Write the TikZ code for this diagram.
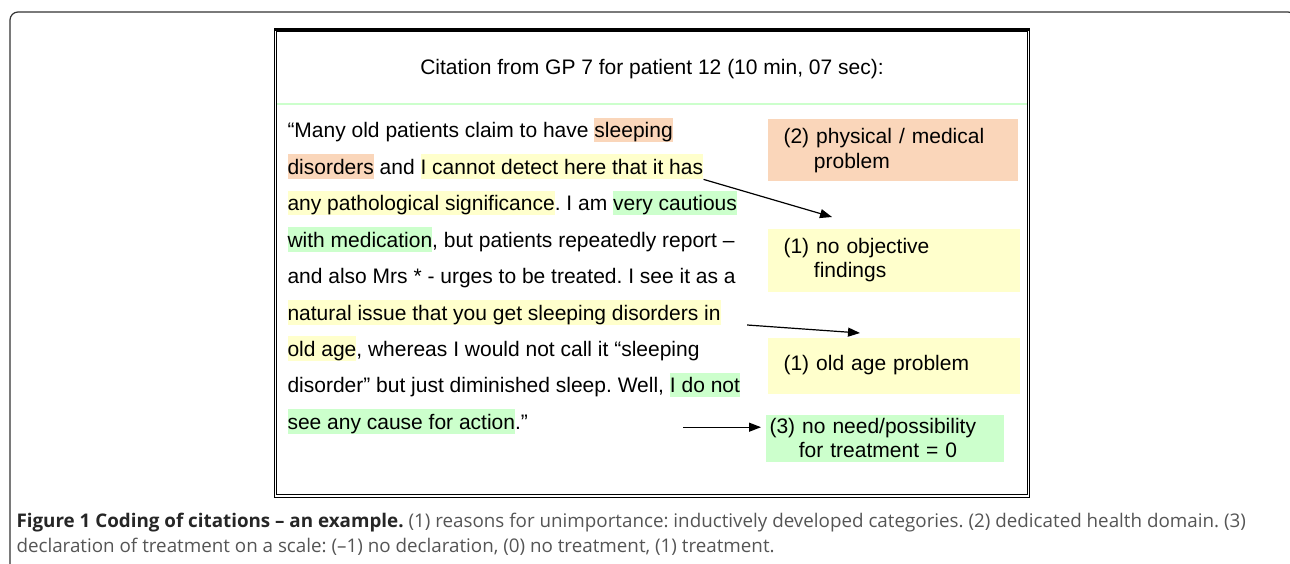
\documentclass[tikz,border=0pt]{standalone}
\usepackage{fontspec}
\setmainfont{Liberation Sans}
\newfontfamily\capfont{Open Sans}
\usetikzlibrary{arrows.meta,calc}
\definecolor{ink}{HTML}{000000}
\definecolor{rim}{HTML}{333333}
\definecolor{peach}{HTML}{FAD6BA}
\definecolor{lemon}{HTML}{FFFFCC}
\definecolor{mint}{HTML}{CCFFCC}
\definecolor{capgray}{HTML}{555555}
\newcommand{\hilite}[2]{{\setlength{\fboxsep}{0pt}\colorbox{#1}{\rule[-4.5pt]{0pt}{24.5pt}#2}}}
\frenchspacing

\begin{document}
\begin{tikzpicture}[
  x=1pt, y=-1pt, line width=1pt, draw=ink, text=ink,
  flow/.style={draw=ink, line width=1.2pt, -{Triangle[length=12pt,width=9pt]}},
  quoteline/.style={anchor=base west, inner sep=0pt, font=\fontsize{21}{24}\selectfont},
  codebox/.style={rectangle, anchor=north west, inner ysep=0pt, align=left,
    font=\fontsize{21}{24.5}\selectfont},
  caption/.style={anchor=base west, inner sep=0pt, text=capgray,
    font=\capfont\fontsize{18.8}{24}\selectfont},
]
  % Page, and the outer frame (only its top-left corner is rounded in view).
  \clip (0,0) rectangle (1290,564);
  \draw[rim, line width=1.2pt, rounded corners=8pt] (10,600) -- (10,12) -- (1296,12) -- (1296,600);

  % Citation panel: double rule, heavier along the top.
  \draw[line width=.9pt, double=white, double distance=1.4pt] (275.5,30) rectangle (1028.5,496);
  \draw[line width=3.5pt] (274,29.5) -- (1030,29.5);
  \draw[mint, line width=1.2pt] (277,104) -- (1027,104);
  \node[anchor=base, font=\fontsize{21}{24}\selectfont] (title) at (652,75)
    {Citation from GP 7 for patient 12 (10 min, 07 sec):};

  % The quote, one node per printed line.
  \def\bl{138} \def\ls{36.4}
  \node[quoteline] (q1) at (287,\bl)
    {“Many old patients claim to have \hilite{peach}{sleeping}};
  \node[quoteline] (q2) at (287,\bl+\ls)
    {\hilite{peach}{disorders} and \hilite{lemon}{I cannot detect here that it has}};
  \node[quoteline] (q3) at (287,\bl+2*\ls)
    {\hilite{lemon}{any pathological significance}. I am \hilite{mint}{very cautious}};
  \node[quoteline] (q4) at (287,\bl+3*\ls)
    {\hilite{mint}{with medication}, but patients repeatedly report –};
  \node[quoteline] (q5) at (287,\bl+4*\ls)
    {and also Mrs * - urges to be treated. I see it as a};
  \node[quoteline] (q6) at (287,\bl+5*\ls)
    {\hilite{lemon}{natural issue that you get sleeping disorders in}};
  \node[quoteline] (q7) at (287,\bl+6*\ls)
    {\hilite{lemon}{old age}, whereas I would not call it “sleeping};
  \node[quoteline] (q8) at (287,\bl+7*\ls)
    {disorder” but just diminished sleep. Well, \hilite{mint}{I do not}};
  \node[quoteline] (q9) at (287,\bl+8*\ls)
    {\hilite{mint}{see any cause for action}.”};

  % The codes given to the marked passages.
  \node[codebox, fill=peach, inner xsep=16pt, text width=218pt, minimum height=62pt] (phys)
    at (767,119) {(2) physical / medical\\\hspace*{1.45em}problem};
  \node[codebox, fill=lemon, inner xsep=16pt, text width=220pt, minimum height=63pt] (noobj)
    at (767,228) {(1) no objective\\\hspace*{1.45em}findings};
  \node[codebox, fill=lemon, inner xsep=16pt, text width=220pt, minimum height=56pt] (oldage)
    at (767,337) {(1) old age problem};
  \node[codebox, fill=mint, inner xsep=4pt, text width=230pt, minimum height=47pt] (notreat)
    at (765,414) {(3) no need/possibility\\\hspace*{1.4em}for treatment = 0};

  % Pointers from the quote to the codes.
  \coordinate (t1) at ($(noobj.north west)+(65,-11)$);
  \coordinate (s2) at ($(q6.south east)+(26,0)$);
  \coordinate (t2) at ($(oldage.north west)+(93,-4)$);
  \coordinate (s3) at ($(q9.base east)+(155,-2)$);
  \draw[flow] (q2.south east) -- (t1);
  \draw[flow] (s2) -- (t2);
  \draw[flow, shorten >=4pt] (s3) -- (s3 -| notreat.west);

  % Figure caption.
  \node[caption] (cap1) at (16,527)
    {\textcolor{black!85}{\bfseries Figure 1 Coding of citations – an example.} (1) reasons for unimportance: inductively developed categories. (2) dedicated health domain. (3)};
  \node[caption] (cap2) at (16,552)
    {declaration of treatment on a scale: (–1) no declaration, (0) no treatment, (1) treatment.};
\end{tikzpicture}
\end{document}
